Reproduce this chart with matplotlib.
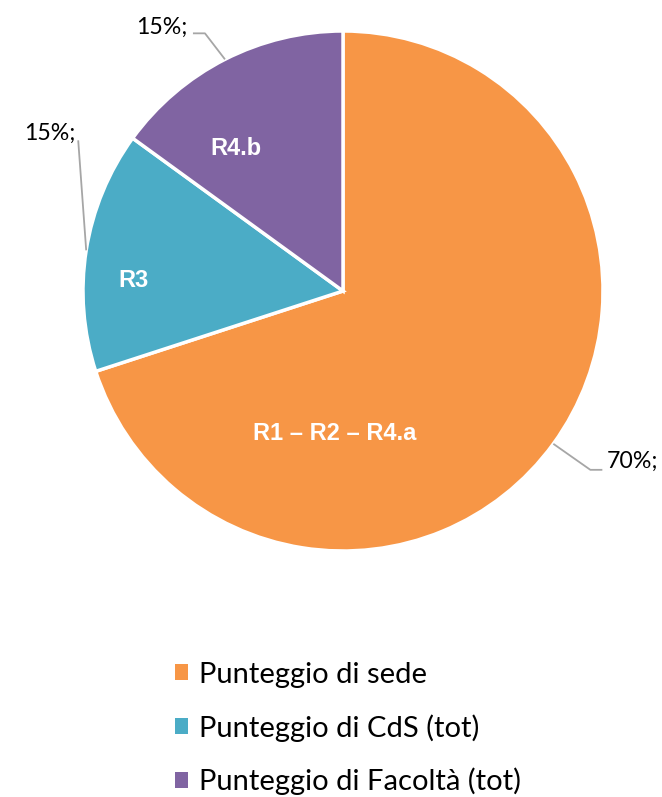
import numpy as np
import matplotlib
import matplotlib.pyplot as plt
from matplotlib.patches import Patch
matplotlib.use('Agg')

# Data
categories = ['Punteggio di sede', 'Punteggio di CdS (tot)', 'Punteggio di Facoltà (tot)']
shares = [70, 15, 15]
inner_labels = ['R1 – R2 – R4.a', 'R3', 'R4.b']
colors = ['#F79646', '#4BACC6', '#8064A2']

W, H = 662, 797
fig = plt.figure(figsize=(W / 100, H / 100), dpi=100)
ax = fig.add_axes([0, 0, 1, 1])

cx, cy, r = 343, H - 291, 260
wedges, _ = ax.pie(shares, colors=colors, startangle=90, counterclock=False,
                   center=(cx, cy), radius=r, frame=True,
                   wedgeprops=dict(edgecolor='white', linewidth=2.5))
ax.set_xlim(0, W)
ax.set_ylim(0, H)
ax.set_aspect('equal')
ax.axis('off')

# inner labels (bold white), offsets from the pie centre in pixels
inner_offsets = [(-8, -142), (-210, 11), (-107, 143)]
for lab, (dx, dy) in zip(inner_labels, inner_offsets):
    ax.text(cx + dx, cy + dy, lab, ha='center', va='center', color='white',
            fontsize=17, fontweight='bold', family='Liberation Sans')

# outside percentage labels with leader lines
# (elbow offset, end offset, text offset, ha) relative to the wedge edge point
leaders = [
    ((37, -26), (49, -26), (53, -18), 'left'),
    ((-8, 110), (-8, 110), (-11, 117), 'right'),
    ((-20, 26), (-32, 26), (-37, 32), 'right'),
]
for w, v, (el, en, to, ha) in zip(wedges, shares, leaders):
    mid = np.deg2rad((w.theta1 + w.theta2) / 2)
    ex, ey = cx + r * np.cos(mid), cy + r * np.sin(mid)
    ax.plot([ex, ex + el[0], ex + en[0]], [ey, ey + el[1], ey + en[1]],
            color='#A6A6A6', linewidth=1.3, solid_capstyle='butt')
    ax.text(ex + to[0], ey + to[1], f'{v}%;', ha=ha, va='center',
            fontsize=16.7, color='black', family='Lato')

handles = [Patch(facecolor=c, edgecolor='none') for c in colors]
leg = ax.legend(handles, categories, loc='upper left',
                bbox_to_anchor=(163 / W, 1 - 650 / H),
                frameon=False,
                prop=dict(family='Lato', size=21),
                handlelength=0.45, handleheight=0.45,
                handletextpad=0.4, labelspacing=0.9, borderaxespad=0)

fig.savefig('out.png', dpi=100)
